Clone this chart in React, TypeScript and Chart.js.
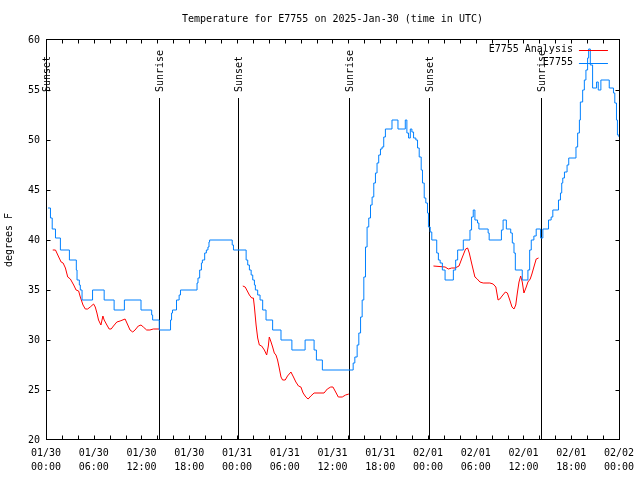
import { useEffect, useRef } from 'react';
import { Chart, registerables } from 'chart.js';

Chart.register(...registerables);

const FONT_FAMILY = '"DejaVu Sans Mono", "Liberation Mono", monospace';
const TITLE = 'Temperature for E7755 on 2025-Jan-30 (time in UTC)';
const Y_LABEL = 'degrees F';
const SERIES_NAMES = ['E7755 Analysis', 'E7755'];
const SERIES_COLORS = ['#ff0000', '#0080ff'];

const xTickDates = ['01/30', '01/30', '01/30', '01/30', '01/31', '01/31', '01/31', '01/31', '02/01', '02/01', '02/01', '02/01', '02/02'];
const xTickTimes = ['00:00', '06:00', '12:00', '18:00', '00:00', '06:00', '12:00', '18:00', '00:00', '06:00', '12:00', '18:00', '00:00'];

// Sunrise / sunset markers (hours since 01/30 00:00 UTC)
const eventHours = [0, 14.23, 24.1, 38.1, 48.1, 62.15];
const eventLabels = ['Sunset', 'Sunrise', 'Sunset', 'Sunrise', 'Sunset', 'Sunrise'];

// E7755 observations: hour at which reading changes, and new reading (deg F)
const blueHours = [
  0.25, 0.56, 0.78, 1.19, 1.81, 2.94, 3.81, 3.9, 4.19, 4.31,
  4.53, 5.85, 7.31, 8.56, 9.85, 11.94, 13.28, 13.4, 14.23, 15.65,
  15.78, 15.9, 16.4, 16.73, 16.9, 18.98, 19.1, 19.31, 19.53, 19.65,
  19.94, 20.15, 20.35, 20.48, 20.56, 23.4, 23.56, 25.15, 25.35, 25.56,
  25.78, 25.98, 26.19, 26.31, 26.6, 26.9, 27.23, 27.65, 28.48, 29.53,
  30.9, 32.56, 33.69, 33.98, 34.73, 38.6, 38.81, 39.1, 39.31, 39.53,
  39.73, 39.94, 40.15, 40.35, 40.56, 40.78, 40.98, 41.19, 41.4, 41.6,
  41.81, 42.03, 42.23, 42.44, 42.65, 43.48, 44.23, 45.15, 45.35, 45.56,
  45.78, 45.98, 46.19, 46.48, 46.69, 46.9, 47.15, 47.31, 47.53, 47.73,
  47.94, 48.06, 48.28, 48.48, 49.1, 49.31, 49.53, 49.81, 50.15, 51.19,
  51.48, 51.73, 52.44, 53.28, 53.48, 53.69, 53.9, 54.23, 54.4, 55.56,
  55.69, 57.23, 57.44, 57.85, 58.4, 58.6, 58.81, 58.98, 59.85, 60.56,
  60.78, 60.98, 61.31, 61.6, 62.15, 62.44, 63.15, 63.48, 63.69, 64.4,
  64.65, 64.81, 64.94, 65.15, 65.48, 65.69, 66.6, 66.81, 67.03, 67.15,
  67.44, 67.65, 67.85, 68.06, 68.19, 68.4, 68.69, 69.19, 69.4, 69.73,
  70.78, 71.31, 71.48, 71.69, 71.81, 72,
];
const blueTemps = [
  43.2, 42.2, 41.1, 40.2, 39, 38, 37, 36, 35.5, 35,
  34, 35, 34, 33, 34, 33, 32.5, 32, 31, 32,
  32.7, 33, 34, 34.5, 35, 35.7, 36.2, 37, 37.7, 38,
  38.7, 39, 39.3, 39.8, 40, 39.5, 39, 38, 37.5, 37,
  36.5, 36, 35.5, 35, 34.5, 34, 33, 32, 31, 30,
  29, 30, 29, 28, 27, 27.7, 28.3, 29.5, 30.7, 32.3,
  34, 36.3, 39.3, 41.3, 42.2, 43.5, 44.3, 45.7, 46.7, 47.7,
  48.5, 49.1, 49.3, 50.3, 51.1, 52, 51.1, 52, 50.7, 50.2,
  51.1, 50.8, 50.2, 50, 49.2, 48.3, 47, 45.7, 44.2, 43.7,
  42.7, 41.3, 40.8, 40, 38.7, 38, 37.7, 37, 36, 37,
  38, 39, 40, 41, 42.3, 43, 42, 41.7, 41.1, 40.7,
  40, 41, 42, 41.1, 40.7, 39.7, 38.7, 37, 36, 37,
  39, 40, 40.4, 41.1, 40.2, 41.1, 42, 42.3, 43, 44,
  44.7, 45.7, 46.2, 46.8, 47.5, 48.2, 49.3, 50.7, 52, 53.8,
  55, 56, 57, 58.2, 59.1, 57.5, 55.2, 55.8, 55, 56,
  55.2, 54.7, 53.7, 52, 50.5, 50.3,
];

// E7755 Analysis (null = gap between analysis runs)
const redHours = [
  0.85, 1.19, 1.6, 1.9, 2.15, 2.44, 2.73, 3.06, 3.48, 3.78,
  4.1, 4.31, 4.65, 4.94, 5.23, 5.56, 5.98, 6.19, 6.4, 6.6,
  6.9, 7.15, 7.31, 7.65, 7.94, 8.19, 8.48, 8.9, 9.31, 9.94,
  10.28, 10.56, 10.9, 11.19, 11.6, 11.94, 12.23, 12.65, 13.06, 13.48,
  14.23,
  19,
  24.73, 25.03, 25.23, 25.56, 25.85, 26.06, 26.19, 26.4, 26.6, 26.81,
  27.1, 27.44, 27.73, 27.94, 28.06, 28.28, 28.48, 28.69, 28.9, 29.1,
  29.31, 29.53, 29.73, 30.06, 30.35, 30.78, 31.1, 31.4, 31.73, 32.03,
  32.31, 32.65, 32.94, 33.28, 33.69, 34.94, 35.35, 35.78, 36.06, 36.4,
  36.73, 37.23, 37.65, 38.06,
  43,
  48.69, 50.15, 50.56, 50.98, 51.4, 51.9, 52.23, 52.53, 52.73, 52.98,
  53.19, 53.48, 53.69, 53.9, 54.19, 54.53, 54.94, 55.78, 56.19, 56.53,
  56.81, 57.03, 57.31, 57.73, 57.98, 58.28, 58.56, 58.81, 59.03, 59.23,
  59.44, 59.65, 59.85, 60.06, 60.35, 60.56, 60.85, 61.06, 61.31, 61.6,
  61.9,
];
const redTemps: (number | null)[] = [
  39, 39, 38.3, 37.8, 37.7, 37.2, 36.3, 36.1, 35.5, 35,
  34.9, 34.3, 33.5, 33.1, 33.1, 33.3, 33.6, 33.3, 32.7, 32,
  31.5, 32.4, 32, 31.5, 31.1, 31.1, 31.4, 31.8, 31.9, 32.1,
  31.5, 31, 30.8, 31, 31.4, 31.5, 31.3, 31, 31, 31.1,
  31.1,
  null,
  35.4, 35.3, 35, 34.5, 34.2, 34.2, 33.3, 31.5, 30.2, 29.5,
  29.4, 29, 28.5, 29.4, 30.3, 29.8, 29.3, 28.7, 28.5, 28,
  27.2, 26.3, 26, 26, 26.4, 26.8, 26.3, 25.8, 25.4, 25.3,
  24.7, 24.3, 24.1, 24.4, 24.7, 24.7, 25.1, 25.3, 25.3, 24.8,
  24.3, 24.3, 24.5, 24.6,
  null,
  37.4, 37.3, 37.1, 37.2, 37.2, 37.4, 38.1, 38.7, 39.1, 39.2,
  38.7, 37.7, 37, 36.3, 36.1, 35.8, 35.7, 35.7, 35.6, 35.3,
  34, 34.1, 34.4, 34.8, 34.7, 34, 33.3, 33.1, 33.5, 34.7,
  35.8, 36.4, 35.8, 34.7, 35.3, 35.8, 36.1, 36.6, 37.3, 38.1,
  38.2,
];

const font = (size: number) => `${size}px ${FONT_FAMILY}`;

const decorPlugin = {
  id: 'decor',
  beforeDatasetsDraw(chart: any) {
    const { ctx, chartArea: a, scales } = chart;
    const xs = scales.x;
    ctx.save();
    ctx.strokeStyle = '#000';
    ctx.fillStyle = '#000';
    ctx.lineWidth = 1;
    ctx.font = font(10);
    eventHours.forEach((h, i) => {
      const px = Math.round(xs.getPixelForValue(h)) + 0.5;
      ctx.beginPath();
      ctx.moveTo(px, a.top + 58);
      ctx.lineTo(px, a.bottom);
      ctx.stroke();
      ctx.save();
      ctx.translate(px + 1, a.top + 52);
      ctx.rotate(-Math.PI / 2);
      ctx.textAlign = 'left';
      ctx.textBaseline = 'middle';
      ctx.fillText(eventLabels[i], 0, 0);
      ctx.restore();
    });
    ctx.restore();
  },
  afterDraw(chart: any) {
    const { ctx, chartArea: a, scales } = chart;
    const xs = scales.x;
    const ys = scales.y;
    ctx.save();
    ctx.strokeStyle = '#000';
    ctx.lineWidth = 1;
    const L = Math.round(a.left) + 0.5;
    const R = Math.round(a.right) + 0.5;
    const T = Math.round(a.top) - 0.5;
    const B = Math.round(a.bottom) - 0.5;
    ctx.strokeRect(L, T, R - L, B - T);
    ctx.beginPath();
    for (let h = 2; h < 72; h += 2) {
      const px = Math.round(xs.getPixelForValue(h)) + 0.5;
      ctx.moveTo(px, B);
      ctx.lineTo(px, B - 4);
      ctx.moveTo(px, T);
      ctx.lineTo(px, T + 4);
    }
    for (let v = 25; v < 60; v += 5) {
      const py = Math.round(ys.getPixelForValue(v)) + 0.5;
      ctx.moveTo(L, py);
      ctx.lineTo(L + 4, py);
      ctx.moveTo(R, py);
      ctx.lineTo(R - 4, py);
    }
    ctx.stroke();

    ctx.fillStyle = '#000';
    ctx.font = font(10);
    ctx.textAlign = 'center';
    ctx.textBaseline = 'middle';
    ctx.fillText(TITLE, (a.left + a.right) / 2, 19);

    ctx.save();
    ctx.translate(9, (a.top + a.bottom) / 2);
    ctx.rotate(-Math.PI / 2);
    ctx.fillText(Y_LABEL, 0, 0);
    ctx.restore();

    // legend
    ctx.textAlign = 'right';
    SERIES_NAMES.forEach((name, i) => {
      const ly = a.top + 9.5 + i * 13;
      ctx.fillStyle = '#000';
      ctx.fillText(name, a.right - 46, ly);
      ctx.strokeStyle = SERIES_COLORS[i];
      ctx.beginPath();
      ctx.moveTo(a.right - 40, Math.round(ly) + 0.5);
      ctx.lineTo(a.right - 11, Math.round(ly) + 0.5);
      ctx.stroke();
    });
    ctx.restore();
  },
};

export default function App() {
  const ref = useRef<HTMLCanvasElement>(null);
  useEffect(() => {
    document.body.style.margin = '0';
    const blueData = blueHours.map((h, i) => ({ x: h, y: blueTemps[i] }));
    const redData = redHours.map((h, i) => ({ x: h, y: redTemps[i] }));
    const chart = new Chart(ref.current as HTMLCanvasElement, {
      type: 'line',
      data: {
        datasets: [
          {
            label: SERIES_NAMES[0],
            data: redData as any,
            borderColor: SERIES_COLORS[0],
            borderWidth: 1,
            pointRadius: 0,
            tension: 0,
            spanGaps: false,
            order: 1,
          },
          {
            label: SERIES_NAMES[1],
            data: blueData,
            borderColor: SERIES_COLORS[1],
            borderWidth: 1,
            pointRadius: 0,
            stepped: true,
            order: 0,
          },
        ],
      },
      plugins: [decorPlugin],
      options: {
        animation: false,
        responsive: false,
        devicePixelRatio: 1,
        layout: { padding: { top: 40, right: 19, left: 0, bottom: 0 } },
        plugins: {
          legend: { display: false },
          title: { display: false },
          tooltip: { enabled: false },
        },
        scales: {
          x: {
            type: 'linear',
            min: 0,
            max: 72,
            afterFit: (s: any) => { s.height = 40; },
            grid: { display: false, drawTicks: false },
            border: { display: false },
            ticks: {
              stepSize: 6,
              autoSkip: false,
              maxRotation: 0,
              padding: 6,
              color: '#000',
              font: { family: FONT_FAMILY, size: 10, lineHeight: '14px' },
              callback: (_v: any, i: number) => [xTickDates[i], xTickTimes[i]],
            },
          },
          y: {
            min: 20,
            max: 60,
            afterFit: (s: any) => { s.width = 46; },
            grid: { display: false, drawTicks: false },
            border: { display: false },
            ticks: {
              stepSize: 5,
              padding: 6,
              color: '#000',
              font: { family: FONT_FAMILY, size: 10 },
            },
          },
        },
      },
    });
    return () => chart.destroy();
  }, []);
  return <canvas ref={ref} width={640} height={480} style={{ display: 'block' }} />;
}
